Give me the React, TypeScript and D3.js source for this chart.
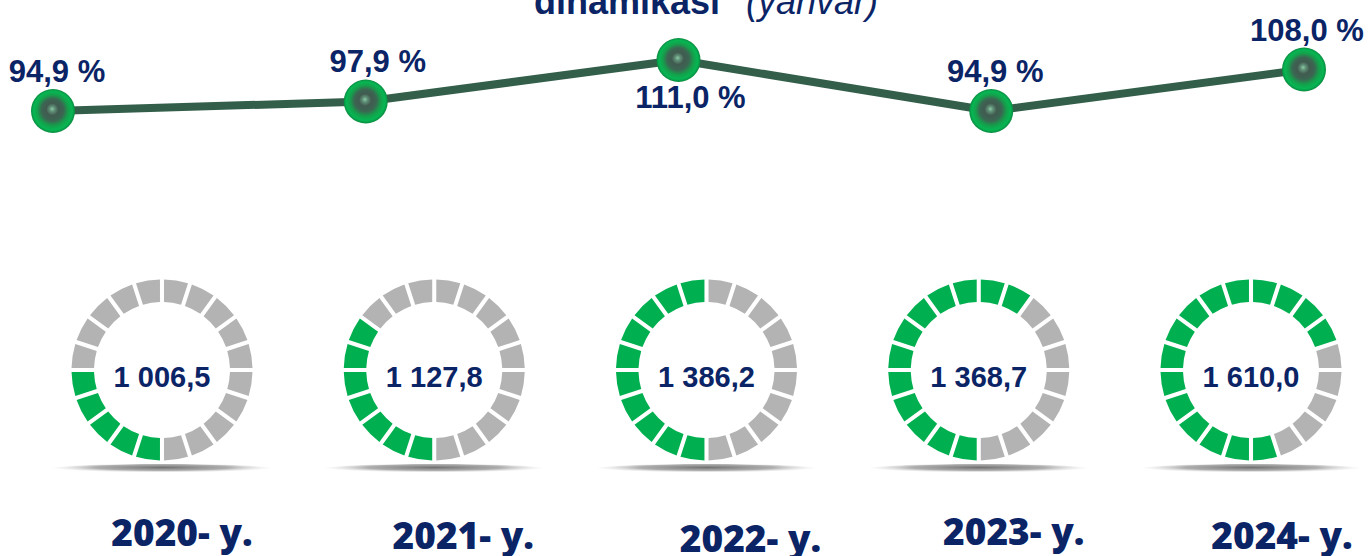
import React from 'react';
import * as d3 from 'd3';

const years = ['2020- y.', '2021- y.', '2022- y.', '2023- y.', '2024- y.'];
const growthPct = [94.9, 97.9, 111.0, 94.9, 108.0];
const volumes = [1006.5, 1127.8, 1386.2, 1368.7, 1610.0];
const filledSegments = [5, 7, 10, 12, 15];
const fillStartSegment = [10, 10, 10, 10, 9];
const titleBold = 'dinamikasi';
const titleItalic = '(yanvar)';
const SEGMENTS = 20;

const W = 1369;
const H = 556;
const NAVY = '#0b2466';
const GREEN = '#00b050';
const GRAY = '#b3b3b3';

const locale = d3.formatLocale({ decimal: ',', thousands: ' ', grouping: [3], currency: ['', ''] });
const fmtVol = locale.format(',.1f');
const fmtPct = (v: number) => locale.format('.1f')(v) + ' %';

const pctLabelOffset = [4, 12, 12, 4, 3];
const yearLabelOffset = [20, 29, 44, 35, 31];
const yearLabelBaseline = [546, 549, 552, 545, 549];

export default function App() {
  const x = d3.scalePoint<string>().domain(years).range([53, 1304]);
  const y = d3.scaleLinear().domain([94.9, 111.0]).range([111, 60]);
  const donutX = d3.scalePoint<string>().domain(years).range([162, 1251]);
  const donutY = 370;

  const line = d3
    .line<number>()
    .x((_, i) => x(years[i]) as number)
    .y((d) => y(d));

  const pie = d3
    .pie<number>()
    .value(() => 1)
    .sort(null)
    .padAngle(0.036);
  const segs = pie(d3.range(SEGMENTS));
  const arc = d3.arc<d3.PieArcDatum<number>>().innerRadius(68).outerRadius(90.5);

  return (
    <svg width={W} height={H} style={{ position: 'absolute', left: 0, top: 0 }} fontFamily="'Liberation Sans', Arial, sans-serif">
      <defs>
        <radialGradient id="ball" cx="50%" cy="50%" r="50%" fx="48%" fy="45%">
          <stop offset="0%" stopColor="#8ec9a6" />
          <stop offset="12%" stopColor="#5f8f76" />
          <stop offset="28%" stopColor="#415a50" />
          <stop offset="50%" stopColor="#3b6652" />
          <stop offset="70%" stopColor="#14a04b" />
          <stop offset="88%" stopColor="#06b653" />
          <stop offset="100%" stopColor="#0b8a40" />
        </radialGradient>
        <radialGradient id="shadow" cx="50%" cy="35%" r="50%">
          <stop offset="0%" stopColor="#6a6a6a" stopOpacity={0.95} />
          <stop offset="60%" stopColor="#8c8c8c" stopOpacity={0.7} />
          <stop offset="100%" stopColor="#d0d0d0" stopOpacity={0} />
        </radialGradient>
      </defs>
      <rect width={W} height={H} fill="#ffffff" />

      <text x={627} y={14} fill={NAVY} fontSize={36} fontWeight="bold" textAnchor="middle">
        {titleBold}
      </text>
      <text x={812} y={14} fill={NAVY} fontSize={36} fontStyle="italic" textAnchor="middle">
        {titleItalic}
      </text>

      <path d={line(growthPct) || ''} fill="none" stroke="#325e4a" strokeWidth={8} strokeLinejoin="round" />
      {growthPct.map((v, i) => (
        <circle key={'m' + i} cx={x(years[i])} cy={y(v)} r={22} fill="url(#ball)" />
      ))}
      {growthPct.map((v, i) => {
        const below = i === 2;
        return (
          <text
            key={'l' + i}
            x={(x(years[i]) as number) + pctLabelOffset[i]}
            y={below ? y(v) + 48 : y(v) - 29}
            fill={NAVY}
            fontSize={31}
            fontWeight="bold"
            textAnchor="middle"
          >
            {fmtPct(v)}
          </text>
        );
      })}

      {volumes.map((v, i) => {
        const cx = donutX(years[i]) as number;
        return (
          <g key={'d' + i}>
            <ellipse cx={cx} cy={469} rx={112} ry={5} fill="url(#shadow)" />
            <g transform={`translate(${cx},${donutY})`}>
              {segs.map((s, k) => {
                const rel = (k - fillStartSegment[i] + SEGMENTS) % SEGMENTS;
                const filled = rel < filledSegments[i];
                return <path key={k} d={arc(s) || ''} fill={filled ? GREEN : GRAY} />;
              })}
            </g>
            <text x={cx} y={donutY + 17} fill={NAVY} fontSize={29} fontWeight="bold" textAnchor="middle">
              {fmtVol(v)}
            </text>
            <text
              x={cx + yearLabelOffset[i]}
              y={yearLabelBaseline[i]}
              fill={NAVY}
              fontSize={37}
              fontWeight={800}
              fontFamily="'Open Sans', sans-serif"
              textAnchor="middle"
            >
              {years[i]}
            </text>
          </g>
        );
      })}
    </svg>
  );
}
